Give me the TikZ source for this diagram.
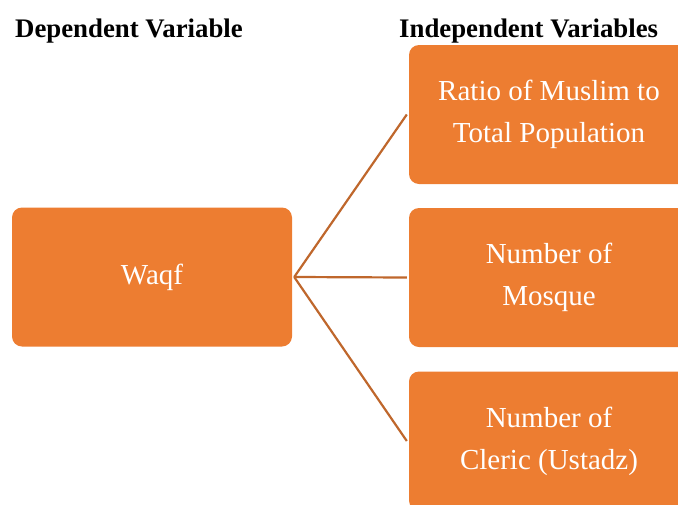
\documentclass[tikz,border=0pt]{standalone}
\usepackage{fontspec}
\setmainfont{Liberation Serif}
\definecolor{boxorange}{HTML}{ED7D31}
\definecolor{linkbrown}{HTML}{BF672C}
\begin{document}
\begin{tikzpicture}[x=1pt,y=-1pt,
  box/.style={fill=boxorange, draw=none, rounded corners=10pt, minimum width=280pt, minimum height=139pt, text=white, font=\fontsize{29}{42}\selectfont, align=center, inner sep=0pt},
  title/.style={font=\fontsize{26.8}{30}\selectfont\bfseries, anchor=base west, inner sep=0pt},
  link/.style={draw=linkbrown, line width=2.2pt}]
\useasboundingbox (0,0) rectangle (678,504);
\node[title] (tdep) at (15,37.5) {Dependent Variable};
\node[title] (tind) at (399,37.5) {Independent Variables};
\node[box] (dep) at (152,277) {Waqf};
\node[box] (ind1) at (549,114.5) {Ratio of Muslim to\\Total Population};
\node[box] (ind2) at (549,277.5) {Number of\\Mosque};
\node[box] (ind3) at (549,441) {Number of\\Cleric (Ustadz)};
\coordinate (hub) at ([xshift=2pt]dep.east);
\draw[link] (hub) -- ([xshift=-2pt]ind1.west);
\draw[link] (hub) -- ([xshift=-2pt]ind2.west);
\draw[link] (hub) -- ([xshift=-2pt]ind3.west);
\end{tikzpicture}
\end{document}
